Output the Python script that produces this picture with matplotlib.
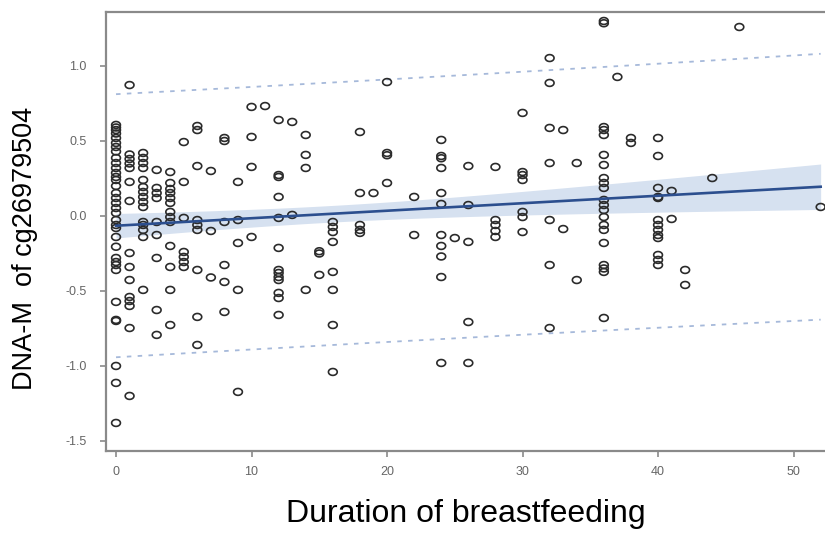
import numpy as np
import matplotlib
matplotlib.use("Agg")
import matplotlib.pyplot as plt
from matplotlib.path import Path

plt.rcParams["font.family"] = ["Liberation Sans", "DejaVu Sans"]
plt.rcParams["axes.unicode_minus"] = False

# Duration of breastfeeding (months) and DNA-M values observed at each duration
durations = [0, 1, 2, 3, 4, 5, 6, 7, 8, 9, 10, 11, 12, 13, 14, 15, 16, 18, 19, 20,
             22, 24, 25, 26, 28, 30, 32, 33, 34, 36, 37, 38, 40, 41, 42, 44, 46, 52]
dnam_by_duration = [
    [0.607, 0.59, 0.573, 0.55, 0.52, 0.487, 0.46, 0.43, 0.387, 0.353, 0.32, 0.287,
     0.26, 0.24, 0.2, 0.153, 0.12, 0.087, 0.053, 0.02, -0.027, -0.06, -0.08, -0.14,
     -0.205, -0.28, -0.307, -0.327, -0.36, -0.573, -0.693, -0.70, -1.0, -1.113, -1.38],
    [0.873, 0.41, 0.38, 0.35, 0.32, 0.227, 0.1, -0.247, -0.34, -0.427, -0.54, -0.567,
     -0.6, -0.747, -1.2],
    [0.42, 0.387, 0.353, 0.32, 0.24, 0.193, 0.16, 0.127, 0.093, 0.06, -0.04, -0.06,
     -0.093, -0.14, -0.493],
    [0.307, 0.187, 0.153, 0.12, -0.04, -0.127, -0.28, -0.627, -0.793],
    [0.293, 0.22, 0.18, 0.153, 0.12, 0.087, 0.027, -0.007, -0.04, -0.2, -0.34, -0.493, -0.727],
    [0.493, 0.227, -0.013, -0.24, -0.273, -0.307, -0.34],
    [0.6, 0.573, 0.333, -0.027, -0.06, -0.093, -0.36, -0.673, -0.86],
    [0.3, -0.1, -0.41],
    [0.52, 0.5, -0.04, -0.327, -0.44, -0.64],
    [0.227, -0.027, -0.18, -0.493, -1.173],
    [0.727, 0.527, 0.327, -0.14],
    [0.733],
    [0.64, 0.273, 0.26, 0.127, -0.013, -0.213, -0.36, -0.38, -0.407, -0.427, -0.513, -0.547, -0.66],
    [0.627, 0.007],
    [0.54, 0.407, 0.32, -0.493],
    [-0.235, -0.25, -0.393],
    [-0.04, -0.073, -0.107, -0.173, -0.373, -0.493, -0.727, -1.04],
    [0.56, 0.153, -0.06, -0.093, -0.113],
    [0.153],
    [0.893, 0.42, 0.405, 0.22],
    [0.127, -0.127],
    [0.507, 0.4, 0.385, 0.32, 0.153, 0.08, -0.127, -0.2, -0.27, -0.407, -0.98],
    [-0.147],
    [0.333, 0.073, -0.173, -0.707, -0.98],
    [0.327, -0.027, -0.06, -0.1, -0.14],
    [0.687, 0.293, 0.273, 0.24, 0.027, -0.007, -0.107],
    [1.053, 0.887, 0.587, 0.353, -0.027, -0.327, -0.747],
    [0.573, -0.087],
    [0.353, -0.427],
    [1.30, 1.285, 0.593, 0.573, 0.54, 0.407, 0.34, 0.253, 0.22, 0.187, 0.107, 0.073,
     0.04, -0.007, -0.06, -0.093, -0.18, -0.327, -0.35, -0.373, -0.68],
    [0.927],
    [0.52, 0.487],
    [0.52, 0.4, 0.187, 0.127, 0.12, -0.027, -0.06, -0.093, -0.127, -0.147, -0.26, -0.293, -0.327],
    [0.167, -0.02],
    [-0.36, -0.46],
    [0.253],
    [1.26],
    [0.06],
]

# Fitted regression line
fit_intercept = -0.065
fit_slope = 0.0050
t_crit = 1.97

x = np.concatenate([[d] * len(v) for d, v in zip(durations, dnam_by_duration)]).astype(float)
y = np.concatenate([np.asarray(v, dtype=float) for v in dnam_by_duration])

n = len(x)
resid = y - (fit_intercept + fit_slope * x)
s = np.sqrt(np.sum(resid ** 2) / (n - 2))
xbar = x.mean()
sxx = np.sum((x - xbar) ** 2)

xx = np.linspace(0, x.max(), 200)
yy = fit_intercept + fit_slope * xx
ci = t_crit * s * np.sqrt(1.0 / n + (xx - xbar) ** 2 / sxx)
pi = t_crit * s * np.sqrt(1.0 + 1.0 / n + (xx - xbar) ** 2 / sxx)

fig = plt.figure(figsize=(8.25, 5.33), dpi=100)
ax = fig.add_axes([106 / 825, 1 - 451 / 533, 1 - 106 / 825, (451 - 12) / 533])

ax.fill_between(xx, yy - ci, yy + ci, color="#d6e1f0", lw=0, zorder=1)
ax.plot(xx, yy + pi, color="#a6b9da", lw=1.3, ls=(0, (2.5, 3.5)), zorder=2)
ax.plot(xx, yy - pi, color="#a6b9da", lw=1.3, ls=(0, (2.5, 3.5)), zorder=2)

theta = np.linspace(0, 2 * np.pi, 41)
ellipse = Path(np.column_stack([np.cos(theta), 0.78 * np.sin(theta)]), closed=True)
ax.scatter(x, y, marker=ellipse, s=40, facecolors="none", edgecolors="#2b2b2b",
           linewidths=1.2, zorder=3)

ax.plot(xx, yy, color="#2c4f8f", lw=1.9, zorder=4)

ax.set_xlim(-0.74, 52.32)
ax.set_ylim(-1.567, 1.36)
ax.set_xticks([0, 10, 20, 30, 40, 50])
ax.set_yticks([-1.5, -1.0, -0.5, 0.0, 0.5, 1.0])
ax.set_yticklabels(["-1.5", "-1.0", "-0.5", "0.0", "0.5", "1.0"])

for side in ("left", "bottom", "top"):
    ax.spines[side].set_color("#8a8a8a")
    ax.spines[side].set_linewidth(1.6)
ax.spines["right"].set_visible(False)

ax.tick_params(axis="both", direction="out", length=4, width=1.2, color="#8a8a8a",
               labelsize=9, labelcolor="#666666")
ax.tick_params(axis="y", pad=10)
ax.tick_params(axis="x", pad=7)

ax.set_xlabel("Duration of breastfeeding", fontsize=23, color="black", labelpad=15)
ax.set_ylabel("DNA-M  of cg26979504", fontsize=19.5, color="black")
ax.yaxis.set_label_coords(-(106 - 38) / 719, (451 - 248) / 439)

fig.savefig("out.png", dpi=100)
